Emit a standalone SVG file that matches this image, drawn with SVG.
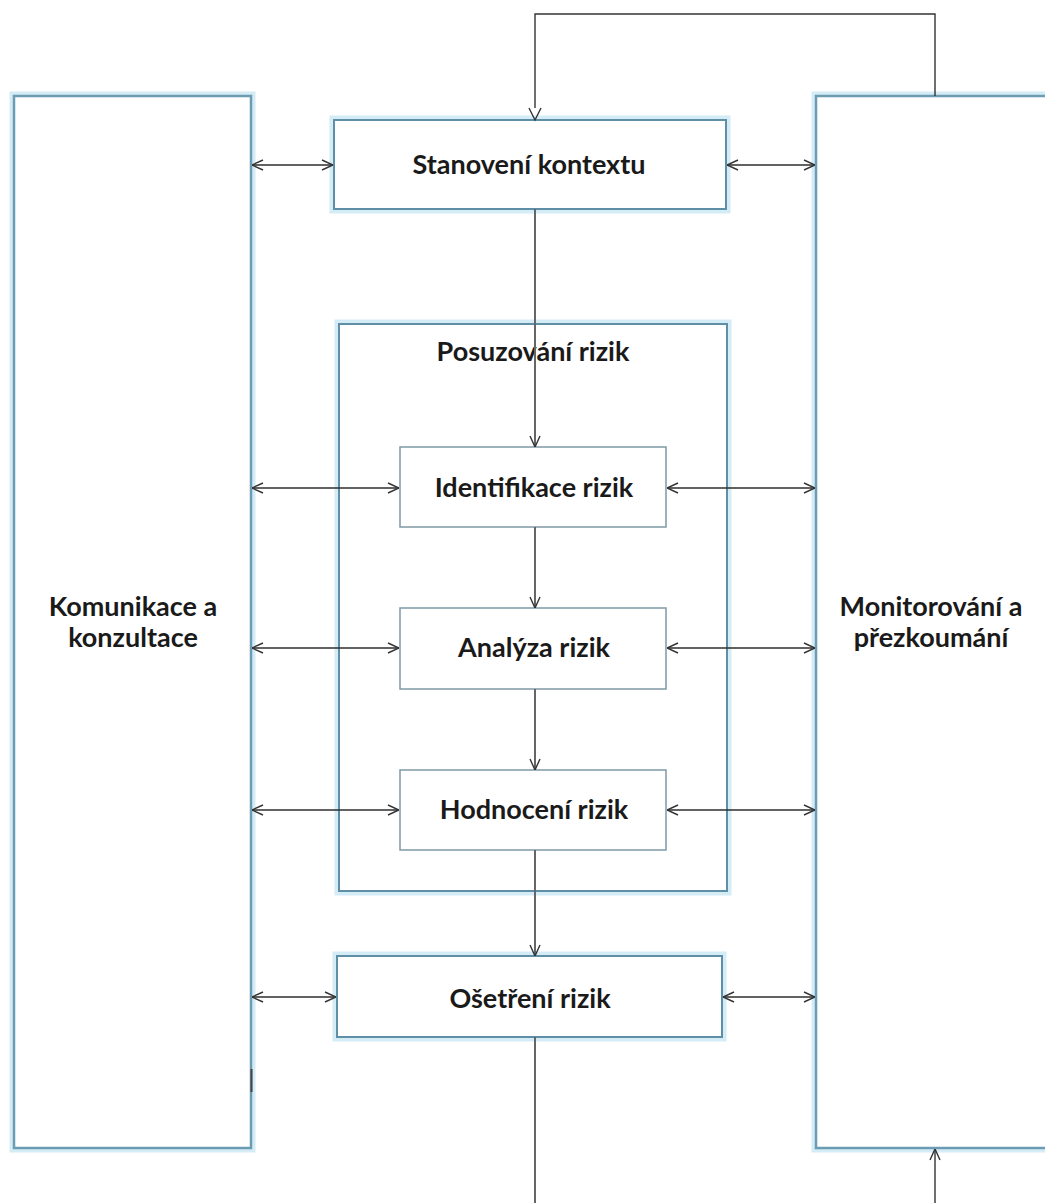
<svg xmlns="http://www.w3.org/2000/svg" width="1045" height="1203" viewBox="0 0 1045 1203">
<defs>
<style>
.glow{fill:none;stroke:#d3ecf5;stroke-width:9}
.big{fill:#fff;stroke:#6c9cb3;stroke-width:2.5}
.mid{fill:#fff;stroke:#5e8fa6;stroke-width:2}
.small{fill:#fff;stroke:#7f99a6;stroke-width:1.5}
.lbl{font-family:Lato,"Open Sans",sans-serif;font-weight:bold;font-size:27px;fill:#1a1a1a;text-anchor:middle}
.h{fill:none;stroke:#2e2e2e;stroke-width:1.4;marker-start:url(#as);marker-end:url(#ae)}
.v{fill:none;stroke:#666;stroke-width:2;marker-end:url(#ae)}
.f{fill:none;stroke:#333;stroke-width:1.4}
</style>
<marker id="ae" viewBox="0 0 12 12" refX="12" refY="6" markerWidth="12" markerHeight="12" markerUnits="userSpaceOnUse" orient="auto">
<path d="M1,1 L12,6 L1,11" fill="none" stroke="#333" stroke-width="1.4"/>
</marker>
<marker id="as" viewBox="0 0 12 12" refX="0" refY="6" markerWidth="12" markerHeight="12" markerUnits="userSpaceOnUse" orient="auto">
<path d="M11,1 L0,6 L11,11" fill="none" stroke="#333" stroke-width="1.4"/>
</marker>
</defs>
<rect width="1045" height="1203" fill="#fff"/>

<g id="komunikace">
<rect class="glow" x="14" y="96" width="237" height="1052"/>
<rect class="big" x="14" y="96" width="237" height="1052"/>
<text class="lbl" x="133" y="616">Komunikace a</text>
<text class="lbl" x="133" y="647">konzultace</text>
</g>

<g id="monitorovani">
<rect class="glow" x="816" y="96" width="240" height="1052"/>
<rect class="big" x="816" y="96" width="240" height="1052"/>
<text class="lbl" x="931" y="616">Monitorování a</text>
<text class="lbl" x="931" y="647">přezkoumání</text>
</g>

<g id="posuzovani">
<rect class="glow" x="339" y="324" width="388" height="567"/>
<rect class="mid" x="339" y="324" width="388" height="567"/>
<text class="lbl" x="533" y="361">Posuzování rizik</text>
</g>

<g id="stanoveni">
<rect class="glow" x="334" y="120" width="392" height="89"/>
<rect class="mid" x="334" y="120" width="392" height="89"/>
<text class="lbl" x="529" y="174">Stanovení kontextu</text>
</g>

<g id="identifikace">
<rect class="small" x="400" y="447" width="266" height="80"/>
<text class="lbl" x="534" y="497">Identifikace rizik</text>
</g>

<g id="analyza">
<rect class="small" x="400" y="608" width="266" height="81"/>
<text class="lbl" x="534" y="657">Analýza rizik</text>
</g>

<g id="hodnoceni">
<rect class="small" x="400" y="770" width="266" height="80"/>
<text class="lbl" x="534" y="819">Hodnocení rizik</text>
</g>

<g id="osetreni">
<rect class="glow" x="337" y="956" width="385" height="81"/>
<rect class="mid" x="337" y="956" width="385" height="81"/>
<text class="lbl" x="530" y="1008">Ošetření rizik</text>
</g>

<g id="connectors">
<path class="f" d="M935,96 V14 H535 V108" />
<path d="M529,108 L535,120 L541,108" fill="none" stroke="#333" stroke-width="1.4"/>
<path class="v" d="M535,209 V447"/>
<path class="v" d="M535,527 V608"/>
<path class="v" d="M535,689 V770"/>
<path class="v" d="M535,850 V956"/>
<path d="M535,1037 V1203" fill="none" stroke="#666" stroke-width="2"/>
<path class="f" d="M935,1203 V1149" marker-end="url(#ae)"/>

<path class="h" d="M252,165 H333"/>
<path class="h" d="M727,165 H815"/>
<path class="h" d="M252,488 H399"/>
<path class="h" d="M667,488 H815"/>
<path class="h" d="M252,648 H399"/>
<path class="h" d="M667,648 H815"/>
<path class="h" d="M252,810 H399"/>
<path class="h" d="M667,810 H815"/>
<path class="h" d="M252,997 H336"/>
<path class="h" d="M723,997 H815"/>
<path d="M251.5,1069 V1092" stroke="#444" stroke-width="2" fill="none"/>
</g>
</svg>
